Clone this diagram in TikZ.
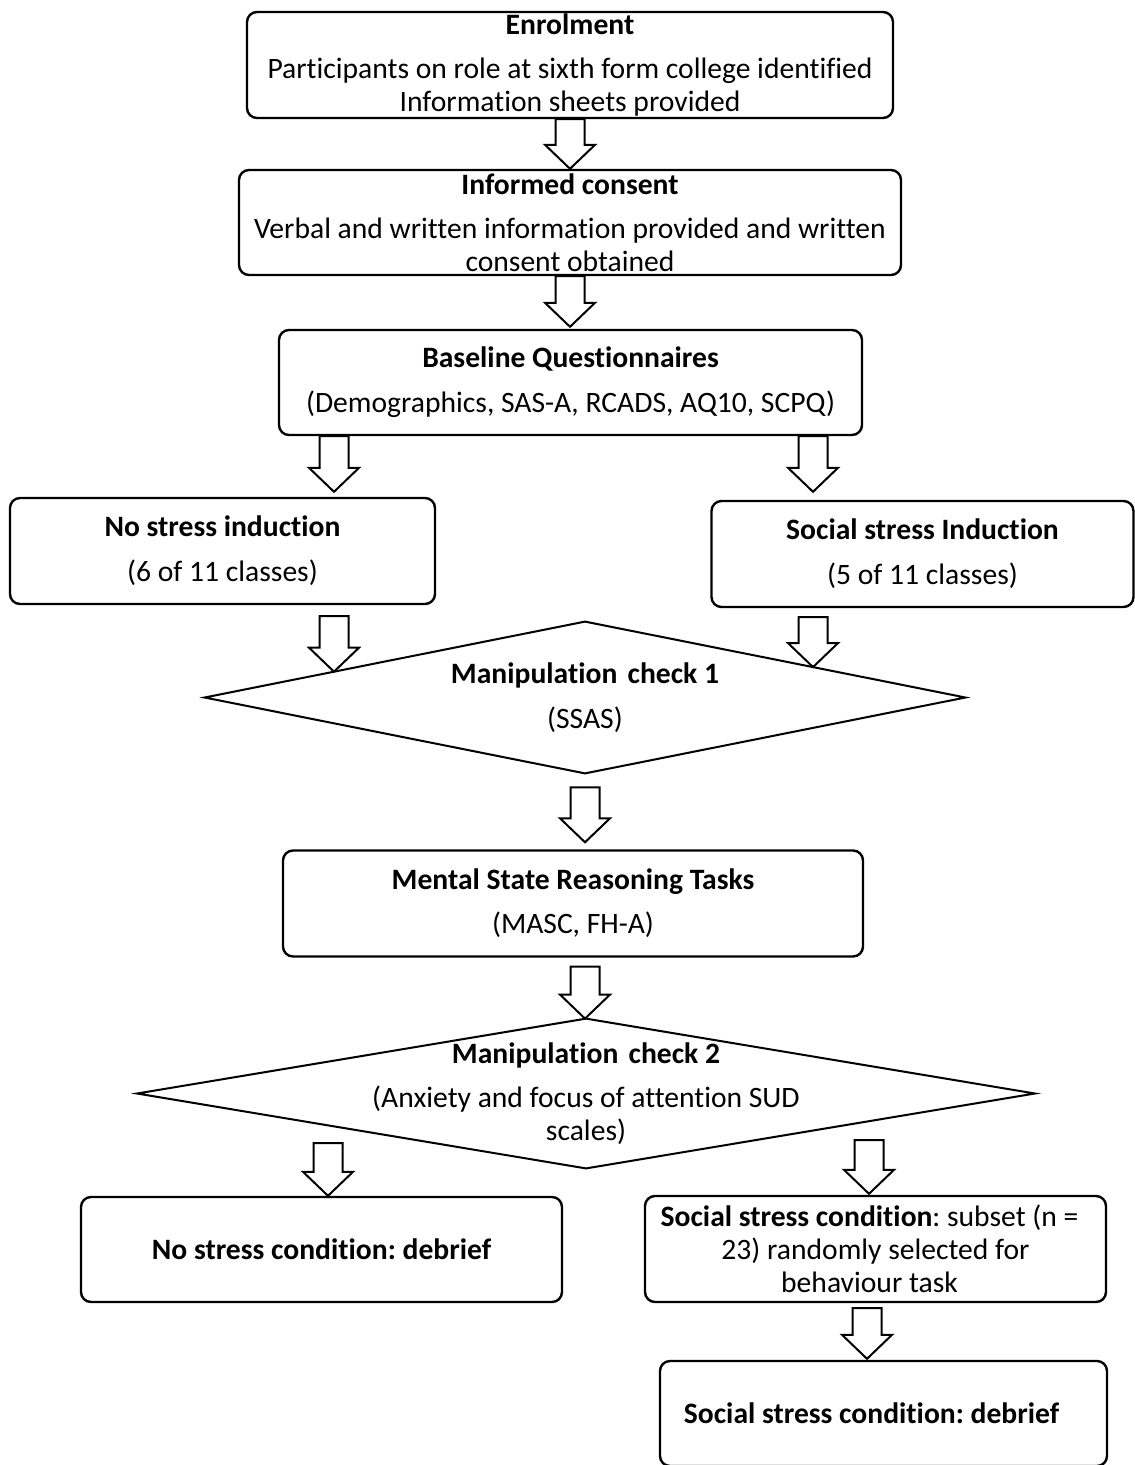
\documentclass[tikz,border=0pt]{standalone}
\usepackage{fontspec}
\setmainfont{Carlito}[Ligatures=NoCommon]
\usetikzlibrary{calc}
\newcommand\myblockarrow[2]{%
  \draw[barrowstyle] let \p1=#1, \p2=#2 in
    (\x1-7.25pt,\y1) -- (\x1+7.25pt,\y1) -- (\x1+7.25pt,\y2+12pt) --
    (\x1+12.5pt,\y2+12pt) -- (\x1,\y2) -- (\x1-12.5pt,\y2+12pt) --
    (\x1-7.25pt,\y2+12pt) -- cycle;}
\begin{document}
\frenchspacing
\begin{tikzpicture}[x=0.5pt,y=-0.5pt,
  txt/.style={align=center, inner sep=0pt, font=\fontsize{14.8pt}{16.5pt}\selectfont},
  box/.style={txt, draw, line width=1.2pt, rounded corners=5pt},
  dia/.style={draw, line width=1pt, line join=miter},
  barrowstyle/.style={draw, fill=white, line width=1pt, line join=miter}]
\useasboundingbox (0,0) rectangle (1134,1465);

% boxes
\node[box, minimum width=323pt, minimum height=53pt] (enrol) at (570,65)
  {\textbf{Enrolment}\\[5.5pt] Participants on role at sixth form college identified\\ Information sheets provided};
\node[box, minimum width=331pt, minimum height=52.5pt] (consent) at (570,222.5)
  {\textbf{Informed consent}\\[5.5pt] Verbal and written information provided and written\\ consent obtained};
\node[box, minimum width=291.5pt, minimum height=52.5pt] (base) at (570.5,382.5)
  {\textbf{Baseline Questionnaires}\\[6pt] (Demographics, SAS-A, RCADS, AQ10, SCPQ)};
\node[box, minimum width=212.5pt, minimum height=53pt] (nsi) at (222.5,551)
  {\textbf{No stress induction}\\[6pt] (6 of 11 classes)};
\node[box, minimum width=211pt, minimum height=53pt] (ssi) at (922.5,554)
  {\textbf{Social stress Induction}\\[6pt] (5 of 11 classes)};
\node[txt, minimum width=380pt, minimum height=75.5pt] (d1) at (585,697.5)
  {\textbf{Manipulation\hspace{0.12em} check 1}\\[6pt] (SSAS)};
\draw[dia] (d1.west) -- (d1.north) -- (d1.east) -- (d1.south) -- cycle;
\node[box, minimum width=290pt, minimum height=53pt] (mst) at (573,903.5)
  {\textbf{Mental State Reasoning Tasks}\\[5.5pt] (MASC, FH-A)};
\node[txt, minimum width=448.5pt, minimum height=74.5pt] (d2) at (586,1093.5)
  {\textbf{Manipulation\hspace{0.12em} check 2}\\[5.5pt] (Anxiety and focus of attention SUD\\ scales)};
\draw[dia] (d2.west) -- (d2.north) -- (d2.east) -- (d2.south) -- cycle;
\node[box, minimum width=240.5pt, minimum height=52.5pt] (nsd) at (321.5,1249.5)
  {\textbf{No stress condition: debrief}};
\node[box, minimum width=230.5pt, minimum height=53pt] (ssc) at (875.5,1249)
  {\textbf{Social stress condition}: subset (n =\hspace*{6pt}\\ 23) randomly selected for\hspace*{6pt}\\ behaviour task\hspace*{6pt}};
\node[box, minimum width=223.5pt, minimum height=52.5pt] (ssd) at (883.5,1413.5)
  {\textbf{Social stress condition: debrief}\hspace*{12pt}};

% helper coordinates for arrow columns
\coordinate (xL1) at (334,0);   \coordinate (xL1b) at (334,1465);
\coordinate (xR1) at (813,0);   \coordinate (xR1b) at (813,1465);
\coordinate (a7Ls) at (328,1143);
\coordinate (a7Rs) at (869,1140);
\coordinate (xR3) at (867,0);

% block arrows
\myblockarrow{(enrol.south)}{(consent.north)}
\myblockarrow{(consent.south)}{([yshift=1pt]base.north)}
\myblockarrow{(base.south -| xL1)}{([yshift=2.5pt]nsi.north -| xL1)}
\myblockarrow{(base.south -| xR1)}{([yshift=4pt]ssi.north -| xR1)}
\myblockarrow{([yshift=-5.5pt]nsi.south -| xL1)}{(intersection of d1.west--d1.north and xL1--xL1b)}
\myblockarrow{([yshift=-4.5pt]ssi.south -| xR1)}{(intersection of d1.north--d1.east and xR1--xR1b)}
\myblockarrow{([yshift=-7pt]d1.south)}{([yshift=3.5pt]mst.north -| d1.south)}
\myblockarrow{([yshift=-4.5pt]mst.south -| d1.south)}{(d2.north)}
\myblockarrow{(a7Ls)}{(nsd.north -| a7Ls)}
\myblockarrow{(a7Rs)}{([yshift=0.5pt]ssc.north -| a7Rs)}
\myblockarrow{([yshift=-2.5pt]ssc.south -| xR3)}{([yshift=0.5pt]ssd.north -| xR3)}
\end{tikzpicture}
\end{document}
